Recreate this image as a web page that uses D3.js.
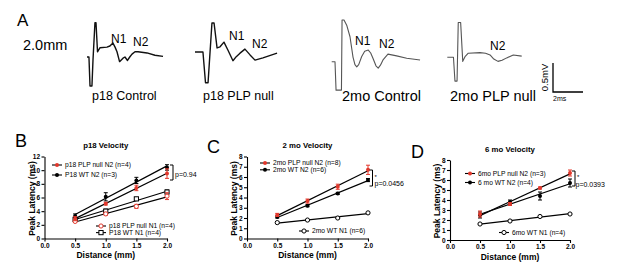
<!DOCTYPE html>
<html>
<head>
<meta charset="utf-8">
<script src="https://cdn.jsdelivr.net/npm/d3@7"></script>
<style>
body { margin: 0; background: #fff; }
text { font-family: "Liberation Sans", Arial, sans-serif; fill: #000; }
</style>
</head>
<body>
<div id="canvas"></div>
<script>
"use strict"

/* Configuration variables: drawing */
let svgWidth = 617;
let svgHeight = 273;
let red = "#e2382c";

/* Panel A: example traces, [time (ms), voltage (mV)] */
let traceP18Control = [[0,0],[0.13,0],[0.2,-0.5],[0.33,-0.5],[0.4,-0.05],[0.53,0.59],[0.6,0.59],[0.7,0.09],
  [0.87,0.16],[1.33,0.17],[1.53,0.19],[1.73,0.24],[1.87,0.17],[2.0,0.09],[2.17,-0.08],[2.4,-0.02],[2.53,0],[2.7,-0.06],
  [2.85,0.0],[3.0,0.05],[3.2,0.09],[3.4,0.09],[4.0,0.07],[4.53,0.03],[5.07,0.01]];
let traceP18Null = [[0,0],[0.53,0],[0.7,-0.53],[0.87,-0.53],[1.13,0.5],[1.27,0.5],[1.47,0.07],[1.67,0.09],
  [1.93,0.17],[2.2,0.03],[2.53,-0.15],[2.75,-0.08],[3.0,-0.02],[3.33,0.05],[3.67,-0.05],[4.0,-0.14],[4.53,-0.1],[5.47,-0.02]];
let trace2moControl = [[0,0],[0.22,0],[0.29,-0.49],[0.65,-0.49],[0.69,0.72],[0.82,0.72],[1.0,0.63],[1.22,0.43],
  [1.42,0.08],[1.55,-0.05],[1.67,-0.09],[1.8,-0.05],[2.0,0.09],[2.2,0.18],[2.44,0.2],[2.6,0.15],[2.75,0.06],
  [2.95,-0.07],[3.1,-0.11],[3.25,-0.06],[3.42,0.03],[3.75,0.13],[4.33,0.1],[5.0,0.06],[5.89,0.03]];
let trace2moNull = [[0,0],[0.41,0],[0.51,-0.41],[0.65,-0.41],[0.73,0.6],[0.89,0.6],[1.03,-0.07],[1.18,0.01],
  [1.4,0.07],[2.18,0.08],[2.55,0.07],[2.85,0.04],[3.1,-0.03],[3.38,-0.07],[3.65,-0.05],[3.96,-0.01],[4.4,0.04],[4.96,0.02]];
let traceNames = ["p18 Control", "p18 PLP null", "2mo Control", "2mo PLP null"];
let scaleBar = [2, 0.5]; // ms, mV

/* Panels B-D: peak latency (ms) vs distance (mm) */
let distance = [0.5, 1.0, 1.5, 2.0];
let distanceTicks = [0.0, 0.5, 1.0, 1.5, 2.0];

let p18NullN2 = [2.9, 5.1, 7.4, 9.5];
let p18NullN2Err = [0.3, 0.2, 0.4, 0.7];
let p18WtN2 = [3.3, 6.1, 8.5, 10.4];
let p18WtN2Err = [0.3, 0.6, 0.45, 0.4];
let p18NullN1 = [2.5, 3.6, 4.7, 6.2];
let p18NullN1Err = [0.15, 0.2, 0.3, 0.5];
let p18WtN1 = [2.8, 4.0, 5.8, 6.8];
let p18WtN1Err = [0.2, 0.3, 0.2, 0.3];
let p18Ticks = [0, 2, 4, 6, 8, 10, 12];

let mo2NullN2 = [2.3, 3.65, 5.05, 6.7];
let mo2NullN2Err = [0.15, 0.2, 0.25, 0.45];
let mo2WtN2 = [2.1, 3.2, 4.4, 5.7];
let mo2WtN2Err = [0.1, 0.1, 0.1, 0.15];
let mo2WtN1 = [1.55, 1.8, 2.0, 2.5];
let mo2WtN1Err = [0.05, 0.05, 0.05, 0.05];

let mo6NullN2 = [2.6, 3.6, 5.2, 6.7];
let mo6NullN2Err = [0.3, 0.15, 0.1, 0.3];
let mo6WtN2 = [2.5, 3.8, 4.4, 5.7];
let mo6WtN2Err = [0.3, 0.2, 0.4, 0.4];
let mo6WtN1 = [1.6, 1.9, 2.35, 2.6];
let mo6WtN1Err = [0.05, 0.05, 0.05, 0.05];
let moTicks = [0, 1, 2, 3, 4, 5, 6, 7, 8];

/* Create drawing canvas */
let svg = d3.select("#canvas")
  .append("svg")
  .attr("width", svgWidth)
  .attr("height", svgHeight);

svg.append("rect")
  .attr("width", svgWidth)
  .attr("height", svgHeight)
  .attr("fill", "#fff");

/* ---------- Panel A ---------- */
let pxPerMs = 15;
let pxPerMv = 58;

let traces = [
  {data: traceP18Control, x0: 87, y0: 57, color: "#111", w: 1.4,
   name: traceNames[0], nameX: 92, nameY: 100, nameSize: 12.5,
   peaks: [["N1", 111, 43], ["N2", 133, 46]]},
  {data: traceP18Null, x0: 195, y0: 52, color: "#111", w: 1.4,
   name: traceNames[1], nameX: 203, nameY: 100, nameSize: 12.5,
   peaks: [["N1", 229, 40], ["N2", 252, 48]]},
  {data: trace2moControl, x0: 331.7, y0: 61.7, color: "#555", w: 1.1,
   name: traceNames[2], nameX: 342, nameY: 101, nameSize: 14.5,
   peaks: [["N1", 355, 45], ["N2", 379, 48]]},
  {data: trace2moNull, x0: 447.3, y0: 57.3, color: "#555", w: 1.1,
   name: traceNames[3], nameX: 450, nameY: 101, nameSize: 14.5,
   peaks: [["N2", 490, 50]]}
];

svg.append("text")
  .attr("x", 17).attr("y", 26)
  .style("font-size", "17px")
  .text("A");

svg.append("text")
  .attr("x", 23).attr("y", 50)
  .style("font-size", "14.5px")
  .text("2.0mm");

traces.forEach(function (t) {
  let tx = d3.scaleLinear().domain([0, 1]).range([t.x0, t.x0 + pxPerMs]);
  let ty = d3.scaleLinear().domain([0, 1]).range([t.y0, t.y0 - pxPerMv]);
  let line = d3.line()
    .x(function (d) { return tx(d[0]); })
    .y(function (d) { return ty(d[1]); });

  svg.append("path")
    .datum(t.data)
    .attr("d", line)
    .attr("fill", "none")
    .attr("stroke", t.color)
    .attr("stroke-width", t.w)
    .attr("stroke-linejoin", "round");

  t.peaks.forEach(function (p) {
    svg.append("text")
      .attr("x", p[1]).attr("y", p[2])
      .style("font-size", "12px")
      .text(p[0]);
  });

  svg.append("text")
    .attr("x", t.nameX).attr("y", t.nameY)
    .style("font-size", t.nameSize + "px")
    .text(t.name);
});

// scale bar
let barX = 553, barY = 92;
let sbx = d3.scaleLinear().domain([0, 1]).range([barX, barX + pxPerMs]);
let sby = d3.scaleLinear().domain([0, 1]).range([barY, barY - pxPerMv]);
svg.append("path")
  .attr("d", "M" + sbx(0) + "," + sby(scaleBar[1]) + "V" + sby(0) + "H" + sbx(scaleBar[0]))
  .attr("fill", "none")
  .attr("stroke", "#000")
  .attr("stroke-width", 1.3);
svg.append("text")
  .attr("transform", "translate(548," + (sby(scaleBar[1] / 2)) + ") rotate(-90)")
  .style("text-anchor", "middle")
  .style("font-size", "9.5px")
  .text(scaleBar[1] + "mV");
svg.append("text")
  .attr("x", 553).attr("y", 100.5)
  .style("font-size", "7px")
  .text(scaleBar[0] + "ms");

/* ---------- Panels B-D ---------- */
let panels = [
  {letter: "B", letterX: 15, letterY: 147, title: "p18 Velocity",
   left: 44.5, right: 167, top: 156.5, bottom: 238.5, yMax: 12, yTicks: p18Ticks,
   series: [
     {v: p18WtN1, e: p18WtN1Err, color: "#000", mark: "square", label: "P18 WT N1 (n=4)", lx: 96, ly: 232.6},
     {v: p18NullN1, e: p18NullN1Err, color: red, mark: "open", label: "p18 PLP null N1 (n=4)", lx: 96, ly: 226},
     {v: p18WtN2, e: p18WtN2Err, color: "#000", mark: "dot", label: "P18 WT N2 (n=3)", lx: 52, ly: 175},
     {v: p18NullN2, e: p18NullN2Err, color: red, mark: "dot", label: "p18 PLP null N2 (n=4)", lx: 52, ly: 165}
   ],
   bracket: [173, 165, 180], star: null, pText: "p=0.94", pX: 175, pY: 176.5},
  {letter: "C", letterX: 207, letterY: 153, title: "2 mo Velocity",
   left: 247, right: 368, top: 156.5, bottom: 238.5, yMax: 8, yTicks: moTicks,
   series: [
     {v: mo2WtN1, e: mo2WtN1Err, color: "#000", mark: "open", label: "2mo WT N1 (n=6)", lx: 299, ly: 231},
     {v: mo2WtN2, e: mo2WtN2Err, color: "#000", mark: "dot", label: "2mo WT N2 (n=6)", lx: 260, ly: 169.8},
     {v: mo2NullN2, e: mo2NullN2Err, color: red, mark: "dot", label: "2mo PLP null N2 (n=8)", lx: 260, ly: 163}
   ],
   bracket: [372.5, 170, 186], star: [374.5, 178.5], pText: "p=0.0456", pX: 374.5, pY: 185.5},
  {letter: "D", letterX: 411, letterY: 158, title: "6 mo Velocity",
   left: 450, right: 570, top: 160, bottom: 240, yMax: 8, yTicks: moTicks,
   series: [
     {v: mo6WtN1, e: mo6WtN1Err, color: "#000", mark: "open", label: "6mo WT N1 (n=4)", lx: 499, ly: 232.5},
     {v: mo6WtN2, e: mo6WtN2Err, color: "#000", mark: "dot", label: "6 mo WT N2 (n=4)", lx: 465, ly: 182.5},
     {v: mo6NullN2, e: mo6NullN2Err, color: red, mark: "dot", label: "6mo PLP null N2 (n=3)", lx: 465, ly: 173.5}
   ],
   bracket: [575, 171, 186], star: [577, 179], pText: "p=0.0393", pX: 575.5, pY: 186.5}
];

function drawMarker(g, cx, cy, mark, color) {
  if (mark === "dot") {
    g.append("circle").attr("cx", cx).attr("cy", cy).attr("r", 2)
      .attr("fill", color);
  } else if (mark === "open") {
    g.append("circle").attr("cx", cx).attr("cy", cy).attr("r", 2.1)
      .attr("fill", "#fff").attr("stroke", color).attr("stroke-width", 1);
  } else {
    g.append("rect").attr("x", cx - 2.1).attr("y", cy - 2.1)
      .attr("width", 4.2).attr("height", 4.2)
      .attr("fill", "#fff").attr("stroke", color).attr("stroke-width", 1);
  }
}

// least squares line through the points
function fit(xs, ys) {
  let mx = d3.mean(xs), my = d3.mean(ys);
  let sxy = d3.sum(xs, function (x, i) { return (x - mx) * (ys[i] - my); });
  let sxx = d3.sum(xs, function (x) { return (x - mx) * (x - mx); });
  let b = sxy / sxx;
  return function (x) { return my + b * (x - mx); };
}

panels.forEach(function (p) {
  let xScale = d3.scaleLinear().domain([0, 2]).range([p.left, p.right]);
  let yScale = d3.scaleLinear().domain([0, p.yMax]).range([p.bottom, p.top]);
  let g = svg.append("g");

  g.append("text")
    .attr("x", p.letterX).attr("y", p.letterY)
    .style("font-size", "18px")
    .text(p.letter);

  g.append("text")
    .attr("x", (p.left + p.right) / 2).attr("y", p.top - 8.5)
    .style("text-anchor", "middle")
    .style("font-size", "7.8px")
    .style("font-weight", "bold")
    .text(p.title);

  let yAxis = g.append("g")
    .attr("transform", "translate(" + p.left + ",0)")
    .call(d3.axisLeft(yScale).tickValues(p.yTicks).tickSize(3).tickSizeOuter(0).tickPadding(1.5));
  let xAxis = g.append("g")
    .attr("transform", "translate(0," + p.bottom + ")")
    .call(d3.axisBottom(xScale).tickValues(distanceTicks).tickSize(3).tickSizeOuter(0)
      .tickPadding(1.5).tickFormat(d3.format(".1f")));
  [xAxis, yAxis].forEach(function (a) {
    a.selectAll("path, line").attr("stroke", "#000").attr("stroke-width", 1.1);
    a.selectAll("text")
      .style("font-family", "'Liberation Sans', Arial, sans-serif")
      .style("font-size", "6.5px")
      .style("font-weight", "bold")
      .attr("fill", "#000");
  });

  g.append("text")
    .attr("x", (p.left + p.right) / 2).attr("y", p.bottom + 19.5)
    .style("text-anchor", "middle")
    .style("font-size", "8.5px")
    .style("font-weight", "bold")
    .text("Distance (mm)");

  g.append("text")
    .attr("transform", "translate(" + (p.left - 10) + "," + ((p.top + p.bottom) / 2 + 1) + ") rotate(-90)")
    .style("text-anchor", "middle")
    .style("font-size", "8.5px")
    .style("font-weight", "bold")
    .text("Peak Latency (ms)");

  // fitted lines
  p.series.forEach(function (s) {
    let f = fit(distance, s.v);
    g.append("line")
      .attr("x1", xScale(distance[0])).attr("y1", yScale(f(distance[0])))
      .attr("x2", xScale(distance[3])).attr("y2", yScale(f(distance[3])))
      .attr("stroke", "#000").attr("stroke-width", 1.2);
  });

  // error bars and markers
  p.series.forEach(function (s) {
    distance.forEach(function (d, i) {
      let cx = xScale(d);
      let y1 = yScale(s.v[i] + s.e[i]), y2 = yScale(s.v[i] - s.e[i]);
      g.append("path")
        .attr("d", "M" + cx + "," + y1 + "V" + y2 + "M" + (cx - 2) + "," + y1 + "h4M" + (cx - 2) + "," + y2 + "h4")
        .attr("stroke", s.color).attr("stroke-width", 1).attr("fill", "none");
    });
    distance.forEach(function (d, i) {
      drawMarker(g, xScale(d), yScale(s.v[i]), s.mark, s.color);
    });

    // legend entry
    g.append("line")
      .attr("x1", s.lx).attr("x2", s.lx + 10)
      .attr("y1", s.ly).attr("y2", s.ly)
      .attr("stroke", "#000").attr("stroke-width", 1.1);
    drawMarker(g, s.lx + 5, s.ly, s.mark, s.color);
    g.append("text")
      .attr("x", s.lx + 13).attr("y", s.ly + 2.4)
      .style("font-size", "6.7px")
      .text(s.label);
  });

  // significance bracket
  let b = p.bracket;
  g.append("path")
    .attr("d", "M" + (b[0] - 3) + "," + b[1] + "H" + b[0] + "V" + b[2] + "H" + (b[0] - 3))
    .attr("fill", "none").attr("stroke", "#000").attr("stroke-width", 1);
  if (p.star) {
    g.append("text")
      .attr("x", p.star[0]).attr("y", p.star[1])
      .style("font-size", "6px")
      .text("*");
  }
  g.append("text")
    .attr("x", p.pX).attr("y", p.pY)
    .style("font-size", "7px")
    .text(p.pText);
});
</script>
</body>
</html>
